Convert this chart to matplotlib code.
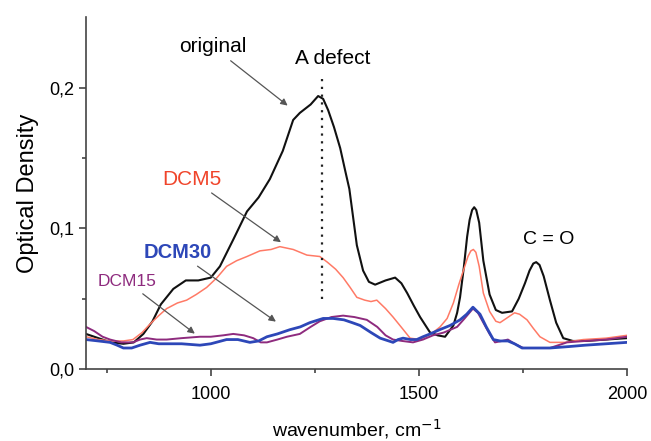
import matplotlib
matplotlib.use('Agg')
import matplotlib.pyplot as plt
import numpy as np

plt.rcParams['font.family'] = ['Liberation Sans', 'DejaVu Sans']

# original sample (black)
orig_x = [700, 730, 760, 790, 815, 838, 860, 880, 910, 940, 970, 1000, 1022, 1054,
          1087, 1115, 1142, 1173, 1198, 1214, 1240, 1258, 1270, 1282, 1296, 1311,
          1323, 1333, 1342, 1351, 1366, 1380, 1395, 1420, 1443, 1458, 1472, 1488,
          1503, 1527, 1545, 1563, 1583, 1592, 1599, 1608, 1616, 1622, 1628, 1633,
          1638, 1645, 1655, 1670, 1685, 1700, 1724, 1740, 1755, 1766, 1775, 1782,
          1790, 1800, 1815, 1830, 1847, 1870, 1900, 1950, 2000]
orig_y = [0.025, 0.022, 0.019, 0.018, 0.019, 0.025, 0.034, 0.046, 0.057, 0.063, 0.063,
          0.065, 0.073, 0.092, 0.112, 0.122, 0.135, 0.155, 0.177, 0.182, 0.188, 0.194,
          0.192, 0.184, 0.172, 0.157, 0.141, 0.128, 0.108, 0.088, 0.070, 0.062, 0.060,
          0.063, 0.065, 0.061, 0.054, 0.045, 0.037, 0.026, 0.024, 0.023, 0.031, 0.040,
          0.051, 0.072, 0.094, 0.106, 0.113, 0.115, 0.113, 0.104, 0.077, 0.053, 0.042,
          0.040, 0.041, 0.050, 0.061, 0.070, 0.075, 0.076, 0.074, 0.066, 0.049, 0.033,
          0.022, 0.020, 0.020, 0.021, 0.022]

# DCM5 (red)
dcm5_x = [700, 730, 760, 790, 813, 835, 854, 875, 894, 920, 942, 965, 990, 1015,
          1038, 1062, 1087, 1118, 1145, 1166, 1198, 1231, 1262, 1280, 1300, 1318,
          1335, 1351, 1370, 1385, 1399, 1420, 1438, 1460, 1479, 1503, 1530, 1551,
          1568, 1583, 1596, 1607, 1618, 1625, 1631, 1637, 1645, 1655, 1670, 1685,
          1695, 1715, 1730, 1742, 1760, 1775, 1791, 1815, 1850, 1895, 1950, 2000]
dcm5_y = [0.023, 0.021, 0.020, 0.020, 0.021, 0.026, 0.032, 0.038, 0.043, 0.047, 0.049,
          0.053, 0.058, 0.065, 0.073, 0.077, 0.080, 0.084, 0.085, 0.087, 0.085, 0.081,
          0.080, 0.076, 0.071, 0.065, 0.058, 0.051, 0.049, 0.048, 0.049, 0.043, 0.037,
          0.029, 0.022, 0.021, 0.025, 0.030, 0.036, 0.047, 0.060, 0.070, 0.080, 0.084,
          0.085, 0.083, 0.073, 0.054, 0.041, 0.034, 0.033, 0.037, 0.040, 0.039, 0.035,
          0.029, 0.023, 0.019, 0.019, 0.021, 0.022, 0.024]

# DCM15 (purple)
dcm15_x = [700, 720, 740, 758, 785, 813, 830, 846, 870, 894, 930, 974, 1000, 1030,
           1054, 1080, 1102, 1120, 1135, 1160, 1183, 1214, 1240, 1262, 1290, 1318,
           1345, 1375, 1400, 1420, 1438, 1460, 1486, 1510, 1534, 1560, 1592, 1610,
           1630, 1642, 1655, 1670, 1683, 1700, 1714, 1730, 1751, 1780, 1815, 1856,
           1900, 1950, 2000]
dcm15_y = [0.030, 0.027, 0.023, 0.021, 0.019, 0.019, 0.021, 0.022, 0.021, 0.021, 0.022,
           0.023, 0.023, 0.024, 0.025, 0.024, 0.022, 0.019, 0.019, 0.021, 0.023, 0.025,
           0.030, 0.034, 0.037, 0.038, 0.037, 0.035, 0.030, 0.024, 0.021, 0.020, 0.019,
           0.021, 0.024, 0.026, 0.030, 0.036, 0.043, 0.040, 0.033, 0.025, 0.019, 0.020,
           0.021, 0.018, 0.015, 0.015, 0.015, 0.019, 0.020, 0.021, 0.023]

# DCM30 (blue)
dcm30_x = [700, 730, 758, 775, 790, 810, 830, 854, 875, 894, 930, 974, 1000, 1038,
           1065, 1094, 1115, 1135, 1160, 1190, 1215, 1238, 1270, 1294, 1320, 1340,
           1359, 1385, 1407, 1438, 1450, 1462, 1480, 1495, 1510, 1527, 1550, 1575,
           1599, 1615, 1630, 1647, 1662, 1679, 1695, 1714, 1730, 1748, 1780, 1815,
           1860, 1900, 1950, 2000]
dcm30_y = [0.021, 0.020, 0.019, 0.017, 0.015, 0.015, 0.017, 0.019, 0.018, 0.018, 0.018,
           0.017, 0.018, 0.021, 0.021, 0.019, 0.020, 0.023, 0.025, 0.028, 0.030, 0.033,
           0.036, 0.036, 0.035, 0.033, 0.031, 0.026, 0.022, 0.019, 0.021, 0.022, 0.021,
           0.021, 0.023, 0.025, 0.028, 0.031, 0.035, 0.039, 0.044, 0.039, 0.030, 0.021,
           0.020, 0.020, 0.018, 0.015, 0.015, 0.015, 0.016, 0.017, 0.018, 0.019]

x_ticks = [1000, 1500, 2000]
y_ticks = [0.0, 0.1, 0.2]
y_tick_labels = ['0,0', '0,1', '0,2']
defect_x = 1267

fig = plt.figure(figsize=(6.51, 4.41), dpi=100)
ax = fig.add_axes([0.132, 0.163, 0.831, 0.798])

ax.plot(orig_x, orig_y, color='#111111', lw=1.5)
ax.plot(dcm5_x, dcm5_y, color='#ff7a66', lw=1.1)
ax.plot(dcm15_x, dcm15_y, color='#8e2b7e', lw=1.4)
ax.plot(dcm30_x, dcm30_y, color='#2d47b8', lw=2.0)

# dotted marker for the A defect band
ax.plot([defect_x, defect_x], [0.05, 0.207], color='#222222', lw=1.6, ls=(0, (1, 2.5)))

ax.set_xlim(700, 2000)
ax.set_ylim(0, 0.25)

# axes styling: only left and bottom spines
for s in ['top', 'right']:
    ax.spines[s].set_visible(False)
for s in ['left', 'bottom']:
    ax.spines[s].set_linewidth(1.2)
    ax.spines[s].set_color('#444444')

ax.set_xticks(x_ticks)
ax.set_xticks([750, 1250, 1750], minor=True)
ax.set_yticks(y_ticks)
ax.set_yticklabels(y_tick_labels)
ax.set_yticks([0.05, 0.15], minor=True)
ax.tick_params(which='major', length=5, width=1.2, color='#444444', labelsize=13)
ax.tick_params(axis='x', which='major', pad=7)
ax.tick_params(which='minor', length=3, width=1.2, color='#444444')

ax.set_xlabel('wavenumber, cm$^{-1}$', fontsize=14, labelpad=10)
ax.set_ylabel('Optical Density', fontsize=17, labelpad=7)

# annotations
arrow = dict(arrowstyle='-|>', color='#555555', lw=0.9, mutation_scale=10)
ax.annotate('original', xy=(1190, 0.186), xytext=(1005, 0.229), fontsize=15,
            ha='center', va='center', arrowprops=arrow)
ax.text(1294, 0.221, 'A defect', fontsize=15, ha='center', va='center')
ax.annotate('DCM5', xy=(1174, 0.089), xytext=(955, 0.135), fontsize=15,
            color='#f0442a', ha='center', va='center', arrowprops=arrow)
ax.annotate('DCM30', xy=(1162, 0.0326), xytext=(921, 0.083), fontsize=14.5,
            color='#2d47b8', fontweight='bold', ha='center', va='center', arrowprops=arrow)
ax.annotate('DCM15', xy=(967, 0.024), xytext=(799, 0.062), fontsize=12.5,
            color='#8e2b7e', ha='center', va='center', arrowprops=arrow)
ax.text(1811, 0.092, 'C = O', fontsize=14, ha='center', va='center')

plt.savefig('out.png', dpi=100)
